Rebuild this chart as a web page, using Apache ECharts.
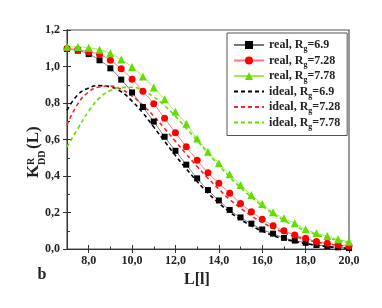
<!DOCTYPE html>
<html><head><meta charset="utf-8">
<script src="https://cdn.jsdelivr.net/npm/echarts@6/dist/echarts.min.js"></script>
<style>html,body{margin:0;padding:0;background:#fff}#c{width:382px;height:308px}</style>
</head><body><div id="c"></div>
<script>
const xs = [7.0,7.5,8.0,8.5,9.0,9.5,10.0,10.5,11.0,11.5,12.0,12.5,13.0,13.5,14.0,14.5,15.0,15.5,16.0,16.5,17.0,17.5,18.0,18.5,19.0,19.5,20.0];
const real69  = [1.096,1.087,1.068,1.034,0.990,0.928,0.858,0.778,0.698,0.615,0.538,0.462,0.387,0.323,0.266,0.214,0.173,0.139,0.107,0.084,0.061,0.046,0.034,0.022,0.016,0.009,0.005];
const real728 = [1.098,1.092,1.081,1.066,1.034,0.987,0.930,0.864,0.796,0.716,0.637,0.560,0.486,0.418,0.360,0.305,0.250,0.204,0.163,0.128,0.100,0.077,0.059,0.041,0.031,0.022,0.016];
const real778 = [1.108,1.107,1.103,1.092,1.072,1.038,0.997,0.945,0.885,0.820,0.752,0.686,0.605,0.533,0.470,0.409,0.351,0.296,0.247,0.202,0.168,0.141,0.108,0.086,0.071,0.053,0.040];
const ideal69  = [0.760,0.845,0.882,0.895,0.888,0.862,0.810,0.745,0.668,0.590,0.512,0.440,0.370,0.307,0.252,0.203,0.162,0.127,0.098,0.074,0.055,0.041,0.029,0.020,0.013,0.008,0.004];
const ideal728 = [0.680,0.795,0.860,0.888,0.893,0.875,0.838,0.788,0.728,0.660,0.590,0.520,0.452,0.388,0.328,0.272,0.224,0.182,0.146,0.115,0.090,0.069,0.052,0.038,0.028,0.020,0.014];
const ideal778 = [0.560,0.660,0.755,0.828,0.868,0.884,0.886,0.868,0.833,0.785,0.727,0.662,0.594,0.525,0.458,0.395,0.337,0.284,0.236,0.193,0.157,0.126,0.100,0.078,0.061,0.047,0.035];
const xMajor = [8,10,12,14,16,18,20];
const xMinor = [9,11,13,15,17,19];
const kinds = ['real','real','real','ideal','ideal','ideal'];
const rgs = ['6.9','7.28','7.78','6.9','7.28','7.78'];

const FONT = 'Liberation Serif';
const names = kinds.map((k,i)=>k+', Rg='+rgs[i]);
const pairs = arr => xs.map((x,i)=>[x,arr[i]]);
const fmt = v => v.toFixed(1).replace('.',',');

const realStyle = [
  {sym:'rect', size:6, col:'#000000', line:'#777777', data:real69},
  {sym:'circle', size:7, col:'#ff0000', line:'#ff7777', data:real728},
  {sym:'triangle', size:8, col:'#66dd00', line:'#99ee55', data:real778}
];
const idealStyle = [
  {col:'#000000', data:ideal69},
  {col:'#ff2222', data:ideal728},
  {col:'#66dd00', data:ideal778}
];
const series = [];
realStyle.forEach((s,i)=>series.push({
  type:'line', name:names[i], data:pairs(s.data), symbol:s.sym, symbolSize:s.size,
  showAllSymbol:true, smooth:true, clip:false,
  itemStyle:{color:s.col}, lineStyle:{color:s.line, width:1}
}));
idealStyle.forEach((s,i)=>series.push({
  type:'line', name:names[i+3], data:pairs(s.data), symbol:'none', smooth:true,
  itemStyle:{color:s.col}, lineStyle:{color:s.col, width:1.6, type:[4,3]}
}));

const legendData = names.map((n,i)=> i<3 ? {name:n} :
  {name:n, itemStyle:{color:'rgba(0,0,0,0)', borderWidth:0, opacity:0}});

const axCol = '#333';
const baseX = {type:'value', min:7, max:20, gridIndex:0, position:'bottom',
  axisLine:{onZero:false, lineStyle:{color:axCol, width:1}}, splitLine:{show:false}};
const baseY = {type:'value', min:0, max:1.2, interval:0.2, position:'left',
  axisLine:{onZero:false, lineStyle:{color:axCol, width:1}}, splitLine:{show:false}};

const chart = echarts.init(document.getElementById('c'));
chart.setOption({
  animation:false,
  grid:{left:67, right:33, top:30, bottom:59, show:true, borderColor:'#555', borderWidth:1.2},
  xAxis:[
    Object.assign({}, baseX, {
      axisTick:{show:true, inside:false, length:4, customValues:xMajor, lineStyle:{color:axCol}},
      axisLabel:{customValues:xMajor, formatter:fmt, margin:6, color:'#222', fontFamily:FONT, fontWeight:'bold', fontSize:12},
      name:'L[l]', nameLocation:'middle', nameGap:20,
      nameTextStyle:{fontFamily:FONT, fontWeight:'bold', fontSize:16, color:'#222', padding:[0,22,0,0]}
    }),
    Object.assign({}, baseX, {
      axisTick:{show:true, inside:true, length:4, customValues:xMajor, lineStyle:{color:axCol}},
      axisLabel:{show:false}
    }),
    Object.assign({}, baseX, {
      axisTick:{show:true, inside:true, length:2.5, customValues:xMinor, lineStyle:{color:axCol}},
      axisLabel:{show:false}
    })
  ],
  yAxis:[
    Object.assign({}, baseY, {
      axisTick:{show:true, inside:false, length:4, lineStyle:{color:axCol}},
      axisLabel:{formatter:fmt, margin:7, color:'#222', fontFamily:FONT, fontWeight:'bold', fontSize:12}
    }),
    Object.assign({}, baseY, {
      axisTick:{show:true, inside:true, length:4, lineStyle:{color:axCol}},
      minorTick:{show:true, splitNumber:2, length:3, lineStyle:{color:axCol}},
      axisLabel:{show:false}
    })
  ],
  legend:{
    orient:'vertical', left:227, top:33, data:legendData,
    itemWidth:30, itemHeight:10, itemGap:1.5,
    padding:[6,7,5,6], borderColor:'#555', borderWidth:1, backgroundColor:'#fff',
    formatter: function(n){ const i = names.indexOf(n); return '{a|'+kinds[i]+', R}{s|g}{a|='+rgs[i]+'}'; },
    textStyle:{fontFamily:FONT, fontWeight:'bold', fontSize:12, color:'#222',
      rich:{
        a:{fontFamily:FONT, fontWeight:'bold', fontSize:12, lineHeight:16, color:'#222'},
        s:{fontFamily:FONT, fontWeight:'bold', fontSize:8, lineHeight:8, verticalAlign:'bottom', color:'#222'}
      }}
  },
  graphic:[
    {type:'group', x:40, y:178, rotation:Math.PI/2, children:[
      {type:'text', x:0, y:-6, style:{text:'K', font:'bold 17px "Liberation Serif"', fill:'#222', textAlign:'left', textVerticalAlign:'middle'}},
      {type:'text', x:13, y:-9, style:{text:'R', font:'bold 10px "Liberation Serif"', fill:'#222', textAlign:'left', textVerticalAlign:'middle'}},
      {type:'text', x:13, y:2, style:{text:'DD', font:'bold 10px "Liberation Serif"', fill:'#222', textAlign:'left', textVerticalAlign:'middle'}},
      {type:'text', x:29, y:-6, style:{text:'(L)', font:'bold 17px "Liberation Serif"', fill:'#222', textAlign:'left', textVerticalAlign:'middle'}}
    ]},
    {type:'text', x:42, y:275, style:{text:'b', font:'bold 16px "Liberation Serif"', fill:'#222', textAlign:'center', textVerticalAlign:'middle'}}
  ],
  series:series
});
</script></body></html>
